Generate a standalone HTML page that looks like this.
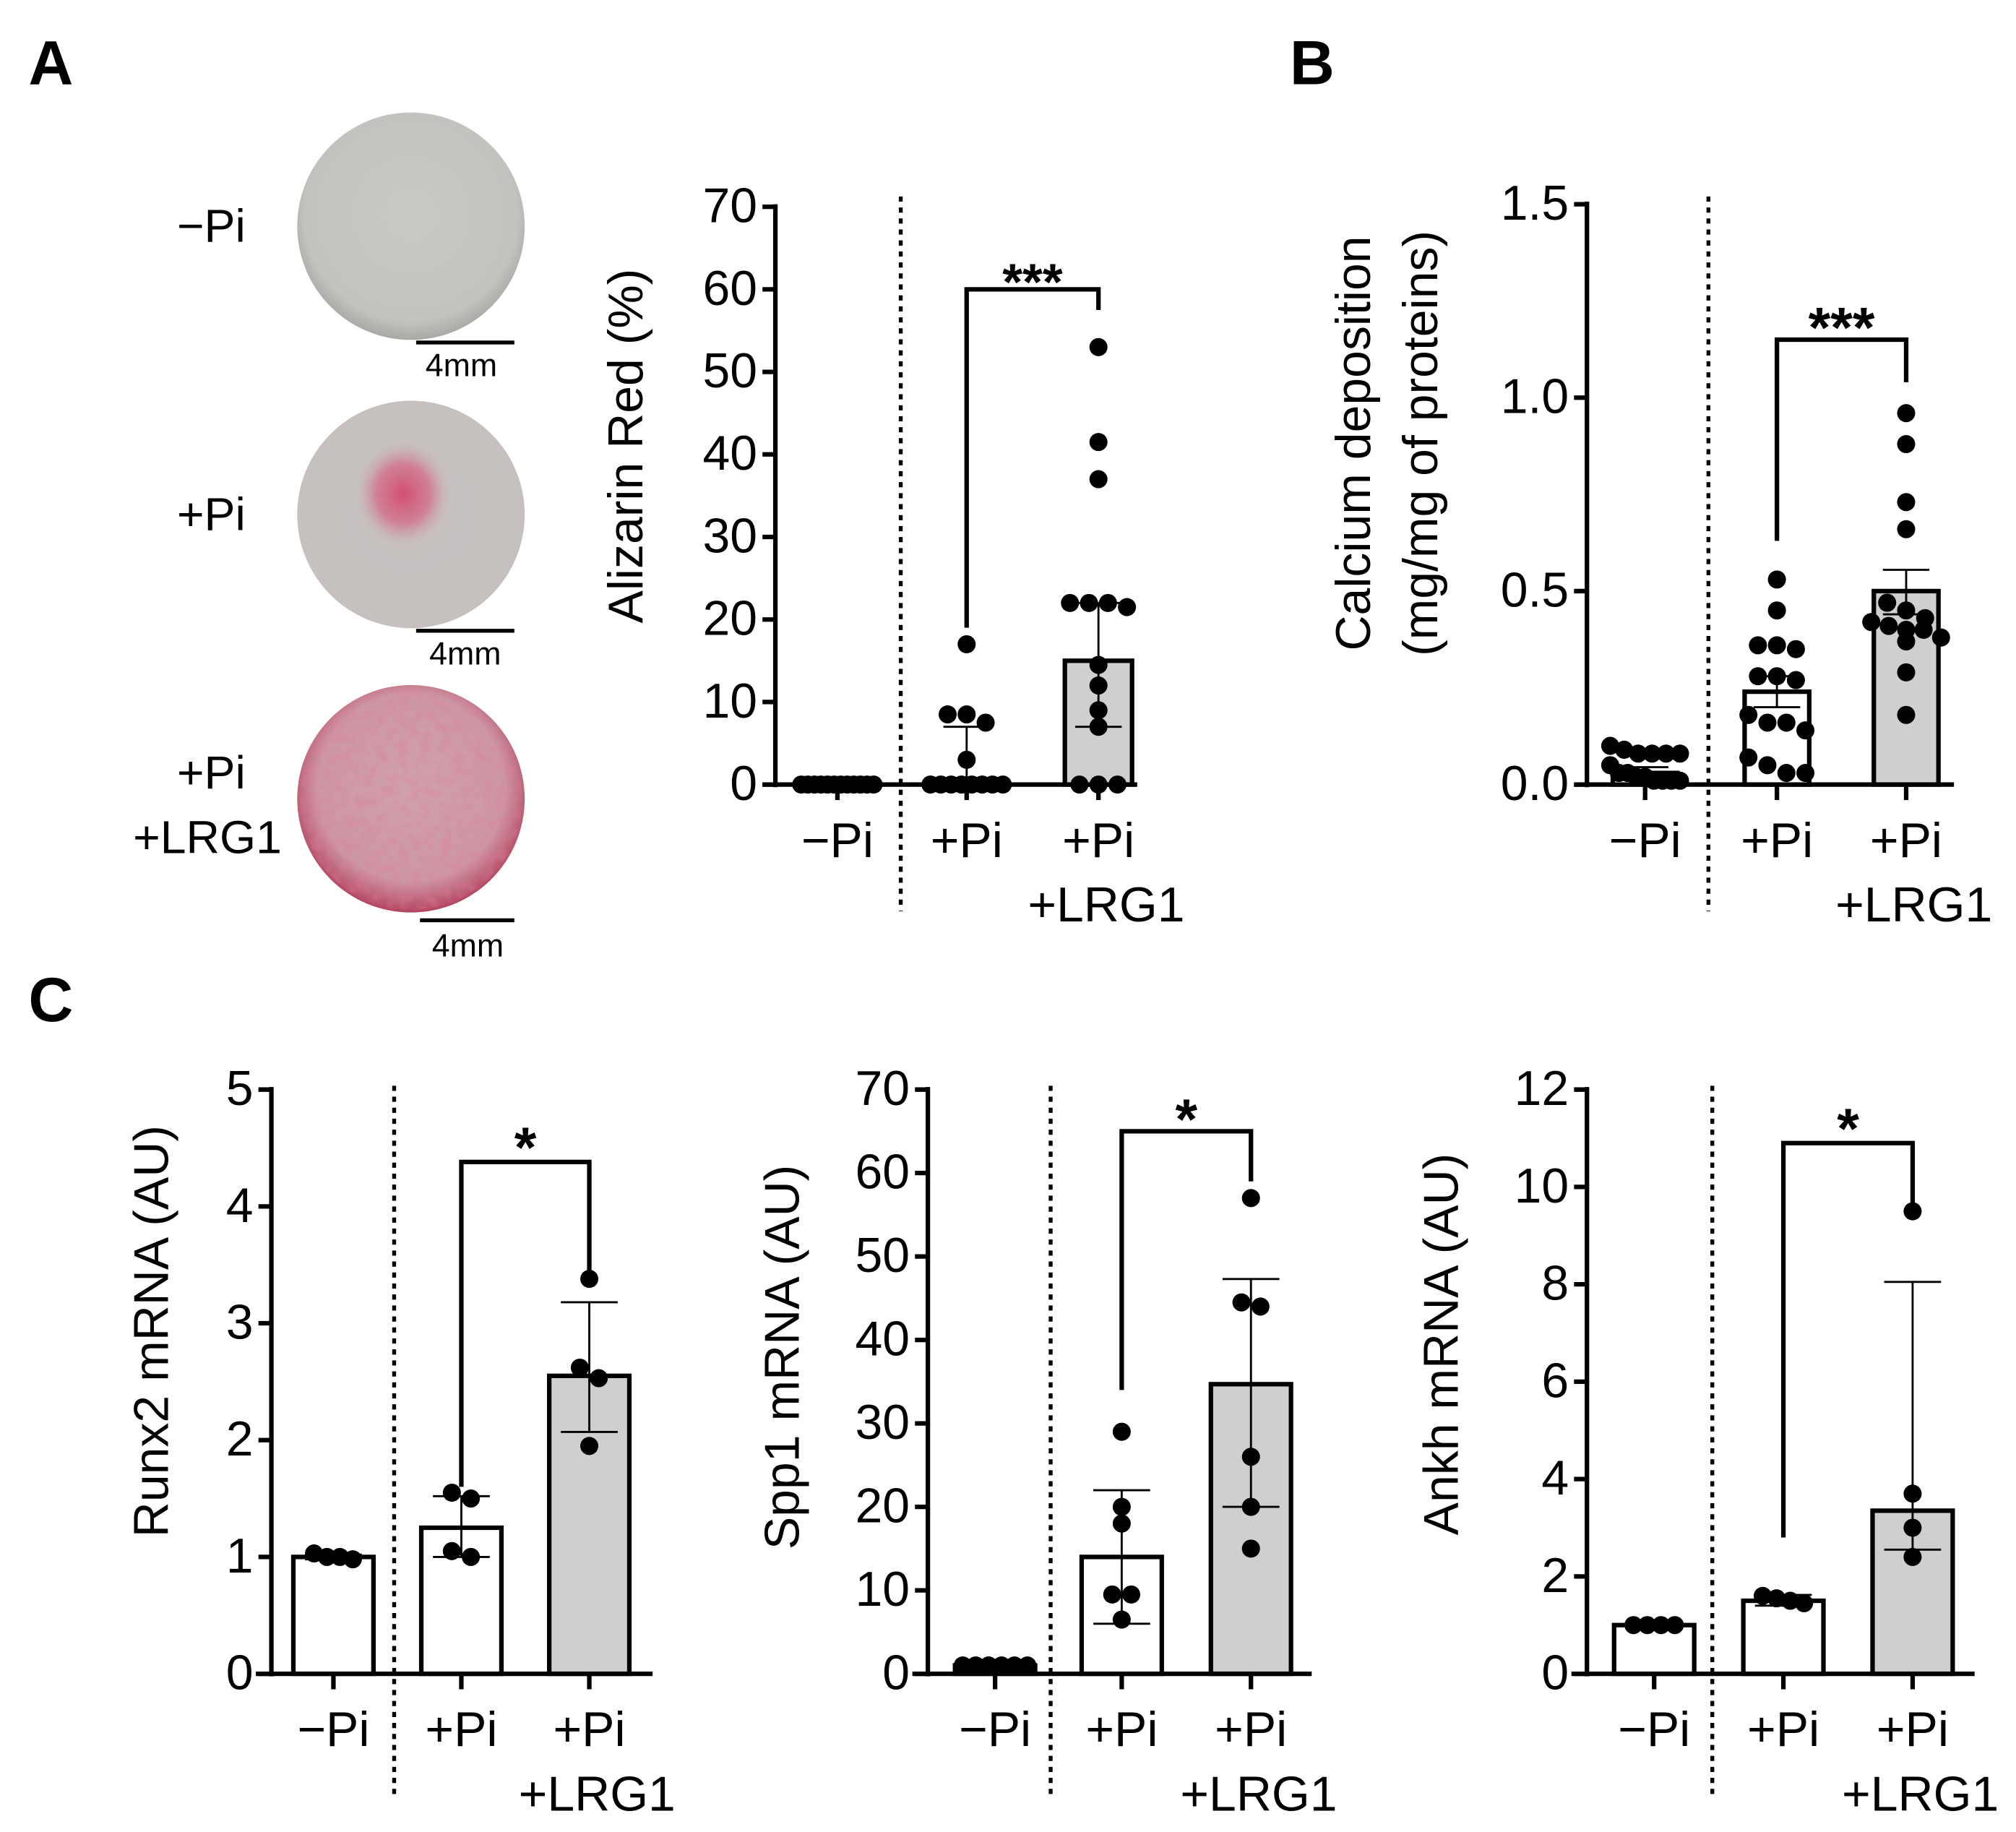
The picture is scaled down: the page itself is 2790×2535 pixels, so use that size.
<!DOCTYPE html>
<html><head><meta charset="utf-8"><style>
html,body{margin:0;padding:0;background:#fff}
svg{display:block}
text{font-family:"Liberation Sans",sans-serif;fill:#000}
</style></head><body>
<svg id="fig" width="2790" height="2535" viewBox="0 0 1560 1417.4" xmlns="http://www.w3.org/2000/svg">
<defs>
<radialGradient id="gGrey" cx="50%" cy="45%" r="55%"><stop offset="0" stop-color="#c9c9c6"/><stop offset="0.85" stop-color="#c2c2bf"/><stop offset="1" stop-color="#a9a8a5"/></radialGradient>
<radialGradient id="gPi" cx="50%" cy="50%" r="55%"><stop offset="0" stop-color="#c7c1c0"/><stop offset="0.9" stop-color="#c6c0bf"/><stop offset="1" stop-color="#a98586"/></radialGradient>
<radialGradient id="gSpot" cx="50%" cy="50%" r="50%"><stop offset="0" stop-color="#d24f70"/><stop offset="0.55" stop-color="#d2708a" stop-opacity="0.8"/><stop offset="1" stop-color="#c9b8ba" stop-opacity="0"/></radialGradient>
<radialGradient id="gLrg" cx="50%" cy="45%" r="55%"><stop offset="0" stop-color="#cfa2ab"/><stop offset="0.75" stop-color="#cd97a3"/><stop offset="1" stop-color="#b4445f"/></radialGradient>
<filter id="noise"><feTurbulence type="fractalNoise" baseFrequency="0.12" numOctaves="2" seed="3"/><feColorMatrix values="0 0 0 0 0.75  0 0 0 0 0.2  0 0 0 0 0.35  0 0 0 -1.6 1.0"/><feComposite in2="SourceGraphic" operator="in"/></filter>
</defs>
<g>
<text x="22" y="65" font-size="48" font-weight="bold">A</text>
<ellipse cx="318" cy="175" rx="88" ry="88" fill="url(#gGrey)"/>
<text x="190" y="187" font-size="36" text-anchor="end">−Pi</text>
<line x1="322" y1="265" x2="398" y2="265" stroke="#000" stroke-width="3"/>
<text x="357" y="291" font-size="25" text-anchor="middle">4mm</text>
<ellipse cx="318" cy="398" rx="88" ry="88" fill="url(#gPi)"/>
<ellipse cx="312" cy="382" rx="38" ry="42" fill="url(#gSpot)"/>
<text x="190" y="410" font-size="36" text-anchor="end">+Pi</text>
<line x1="322" y1="488" x2="398" y2="488" stroke="#000" stroke-width="3"/>
<text x="360" y="514" font-size="25" text-anchor="middle">4mm</text>
<ellipse cx="318" cy="618" rx="88" ry="88" fill="url(#gLrg)"/>
<ellipse cx="318" cy="618" rx="86" ry="86" fill="#fff" filter="url(#noise)" opacity="0.55"/>
<text x="190" y="610" font-size="36" text-anchor="end">+Pi</text>
<text x="218" y="660" font-size="36" text-anchor="end">+LRG1</text>
<line x1="325" y1="712" x2="398" y2="712" stroke="#000" stroke-width="3"/>
<text x="362" y="740" font-size="25" text-anchor="middle">4mm</text>
</g>
<text x="998" y="65" font-size="48" font-weight="bold">B</text>
<text x="22" y="790" font-size="48" font-weight="bold">C</text>
</svg>
<script>
// ---- Data ----
const categories = ["−Pi", "+Pi", "+Pi|+LRG1"];
// Panel A: Alizarin Red (%)
const aTicks = [0,10,20,30,40,50,60,70];
const aBars = [0, 0, 15];
const aErrLo = [0, 0, 7];
const aErrHi = [0, 7, 22];
const aPts0 = [0,0,0,0,0,0,0,0,0,0,0,0];
const aPts1 = [17,8.5,8.5,7.5,3,0,0,0,0,0,0,0,0];
const aPts2 = [53,41.5,37,22,22,21.5,22,14.5,12,9,7,0,0,0];
// Panel B: Calcium deposition
const bTicks = [0.0,0.5,1.0,1.5];
const bBars = [0.03, 0.24, 0.50];
const bErrLo = [0.02, 0.20, 0.44];
const bErrHi = [0.045, 0.28, 0.555];
const bPts0 = [0.09,0.08,0.08,0.08,0.10,0.08,0.05,0.03,0.03,0.02,0.02,0.01,0.01,0.01,0.01];
const bPts1 = [0.53,0.45,0.36,0.35,0.36,0.28,0.27,0.28,0.18,0.16,0.16,0.07,0.14,0.05,0.03,0.03];
const bPts2 = [0.96,0.88,0.73,0.66,0.47,0.45,0.43,0.42,0.41,0.40,0.40,0.38,0.37,0.29,0.18];
// Panel C: Runx2
const rTicks = [0,1,2,3,4,5];
const rBars = [1.0, 1.25, 2.55];
const rErrLo = [0.98, 1.0, 2.07];
const rErrHi = [1.02, 1.52, 3.18];
const rPts0 = [1.03,1.0,1.0,0.98];
const rPts1 = [1.55,1.5,1.05,1.0];
const rPts2 = [3.38,2.62,2.53,1.95];
// Spp1
const sTicks = [0,10,20,30,40,50,60,70];
const sBars = [1, 14, 34.7];
const sErrLo = [1, 6, 20];
const sErrHi = [1, 22, 47.3];
const sPts0 = [1,1,1,1,1,1];
const sPts1 = [29,20,18,9.5,9.5,6.5];
const sPts2 = [57,44.5,44,26,20,15];
// Ankh
const kTicks = [0,2,4,6,8,10,12];
const kBars = [1.0, 1.5, 3.35];
const kErrLo = [0.98, 1.4, 2.55];
const kErrHi = [1.02, 1.62, 8.05];
const kPts0 = [1,1,1,1];
const kPts1 = [1.6,1.5,1.45,1.55];
const kPts2 = [9.5,3.7,3.0,2.4];

const NS = "http://www.w3.org/2000/svg";
const svg = document.getElementById('fig');
function mk(tag, attrs, parent, txt){
  const e = document.createElementNS(NS, tag);
  for (const k in attrs) e.setAttribute(k, attrs[k]);
  if (txt !== undefined) e.textContent = txt;
  (parent||svg).appendChild(e);
  return e;
}

function chart(c){
  const g = mk('g', {});
  
  
  const tMax = c.ticks[c.ticks.length-1];
  const y = v => c.y0 - (v / tMax) * (c.y0 - c.yTop);
  const sep = mk('line', {x1:c.sep, y1:c.sepTop, x2:c.sep, y2:c.sepBot, stroke:'#000','stroke-width':3,'stroke-dasharray':'4 4.5'}, g);
  
  
  c.bars.forEach((v,i)=>{
    if (v <= 0) return;
    const b = mk('rect', {x:c.cx[i]-c.bw/2, y:y(v), width:c.bw, height:c.y0-y(v), fill:i===2?'#cfcfcf':'#fff', stroke:'#000','stroke-width':3.5}, g);
    
    
  });
  c.bars.forEach((v,i)=>{
    if (c.hi[i]-c.lo[i] <= 0.001*tMax) return;
    const eg = mk('g', {stroke:'#000','stroke-width':1.6}, g);
    
    
    mk('line', {x1:c.cx[i], y1:y(c.lo[i]), x2:c.cx[i], y2:y(c.hi[i])}, eg);
    mk('line', {x1:c.cx[i]-c.cap, y1:y(c.hi[i]), x2:c.cx[i]+c.cap, y2:y(c.hi[i])}, eg);
    mk('line', {x1:c.cx[i]-c.cap, y1:y(c.lo[i]), x2:c.cx[i]+c.cap, y2:y(c.lo[i])}, eg);
  });
  const ax = mk('line', {x1:c.ax, y1:c.yTop-2, x2:c.ax, y2:c.y0+2, stroke:'#000','stroke-width':3.5}, g);
  
  
  const xa = mk('line', {x1:c.xStart, y1:c.y0, x2:c.xEnd, y2:c.y0, stroke:'#000','stroke-width':3.5}, g);
  
  
  c.ticks.forEach((t)=>{
    mk('line', {x1:c.ax-10, y1:y(t), x2:c.ax, y2:y(t), stroke:'#000','stroke-width':3.5}, g);
    const tl = mk('text', {x:c.ax-14, y:y(t)+12, 'font-size':c.fs, 'text-anchor':'end'}, g, c.fmt(t));
    
    
  });
  categories.forEach((cat,i)=>{
    mk('line', {x1:c.cx[i], y1:c.y0, x2:c.cx[i], y2:c.y0+12, stroke:'#000','stroke-width':3.5}, g);
    const parts = cat.split('|');
    parts.forEach((p,j)=>{
      const tx = mk('text', {x:c.cx[i]+(j?6:0), y:c.y0+56+j*50, 'font-size':c.fs, 'text-anchor':'middle'}, g, p);
      
      
    });
  });
  c.pts.forEach((arr,i)=>{
    const ys = arr.map(y).sort((a,b)=>a-b);
    const clusters = [];
    ys.forEach(py=>{
      const last = clusters[clusters.length-1];
      if (last && py - last[0] < c.r*1.8) last.push(py); else clusters.push([py]);
    });
    clusters.forEach(cl=>{
      const n = cl.length;
      const step = n > 1 ? Math.min(c.r*2.1, c.spread/(n-1)) : 0;
      cl.forEach((py,k)=>{
        const off = (k - (n-1)/2) * step;
        const d = mk('circle', {cx:c.cx[i]+off, cy:py, r:c.r, fill:'#000'}, g);
        
        
      });
    });
  });
  const bg = mk('g', {fill:'none', stroke:'#000','stroke-width':3.5}, g);
  
  
  mk('path', {d:`M${c.cx[1]} ${y(c.brL)} V${y(c.brY)} H${c.cx[2]} V${y(c.brR)}`}, bg);
  const st = mk('text', {x:(c.cx[1]+c.cx[2])/2, y:y(c.brY)-c.starOff, 'font-size':c.starFs, 'font-weight':'bold', 'text-anchor':'middle'}, g, c.star);
  
  
  c.title.forEach((t,j)=>{
    const tt = mk('text', {x:c.titleX + j*c.lineGap, y:c.titleY, 'font-size':c.tfs, 'text-anchor':'middle', transform:`rotate(-90 ${c.titleX + j*c.lineGap} ${c.titleY})`}, g, t);
    
    
  });
}

chart({name:'alizarin-chart', ticks:aTicks, fmt:t=>String(t), y0:607, yTop:160, ax:600, xStart:590, xEnd:880,
  cx:[648,748,850], bw:52, cap:18, sep:697, sepTop:152, sepBot:705, bars:aBars, lo:aErrLo, hi:aErrHi,
  pts:[aPts0,aPts1,aPts2], r:7, spread:56, brY:60, brL:19, brR:57.5, star:'***', starFs:40, starOff:-8,
  title:['Alizarin Red (%)'], titleX:497, titleY:345, lineGap:0, tfs:38, fs:38});
chart({name:'calcium-chart', ticks:bTicks, fmt:t=>t.toFixed(1), y0:607, yTop:158, ax:1228, xStart:1218, xEnd:1512,
  cx:[1273,1375,1475], bw:50, cap:18, sep:1322, sepTop:152, sepBot:705, bars:bBars, lo:bErrLo, hi:bErrHi,
  pts:[bPts0,bPts1,bPts2], r:7, spread:54, brY:1.15, brL:0.63, brR:1.04, star:'***', starFs:44, starOff:-6,
  title:['Calcium deposition','(mg/mg of proteins)'], titleX:1060, titleY:343, lineGap:52, tfs:38, fs:38});
chart({name:'runx2-chart', ticks:rTicks, fmt:t=>String(t), y0:1295, yTop:843, ax:210, xStart:198, xEnd:505,
  cx:[258,357,456], bw:62, cap:22, sep:305, sepTop:840, sepBot:1392, bars:rBars, lo:rErrLo, hi:rErrHi,
  pts:[rPts0,rPts1,rPts2], r:7, spread:30, brY:4.38, brL:1.6, brR:3.4, star:'*', starFs:44, starOff:-4,
  title:['Runx2 mRNA (AU)'], titleX:130, titleY:1030, lineGap:0, tfs:38, fs:38});
chart({name:'spp1-chart', ticks:sTicks, fmt:t=>String(t), y0:1295, yTop:843, ax:718, xStart:706, xEnd:1015,
  cx:[770,868,968], bw:62, cap:22, sep:813, sepTop:840, sepBot:1392, bars:sBars, lo:sErrLo, hi:sErrHi,
  pts:[sPts0,sPts1,sPts2], r:7, spread:50, brY:65, brL:34, brR:59, star:'*', starFs:44, starOff:-6,
  title:['Spp1 mRNA (AU)'], titleX:618, titleY:1050, lineGap:0, tfs:38, fs:38});
chart({name:'ankh-chart', ticks:kTicks, fmt:t=>String(t), y0:1295, yTop:843, ax:1228, xStart:1216, xEnd:1528,
  cx:[1280,1380,1480], bw:62, cap:22, sep:1325, sepTop:840, sepBot:1392, bars:kBars, lo:kErrLo, hi:kErrHi,
  pts:[kPts0,kPts1,kPts2], r:7, spread:32, brY:10.9, brL:2.8, brR:9.5, star:'*', starFs:44, starOff:-4,
  title:['Ankh mRNA (AU)'], titleX:1128, titleY:1040, lineGap:0, tfs:38, fs:38});
</script>
</body></html>
